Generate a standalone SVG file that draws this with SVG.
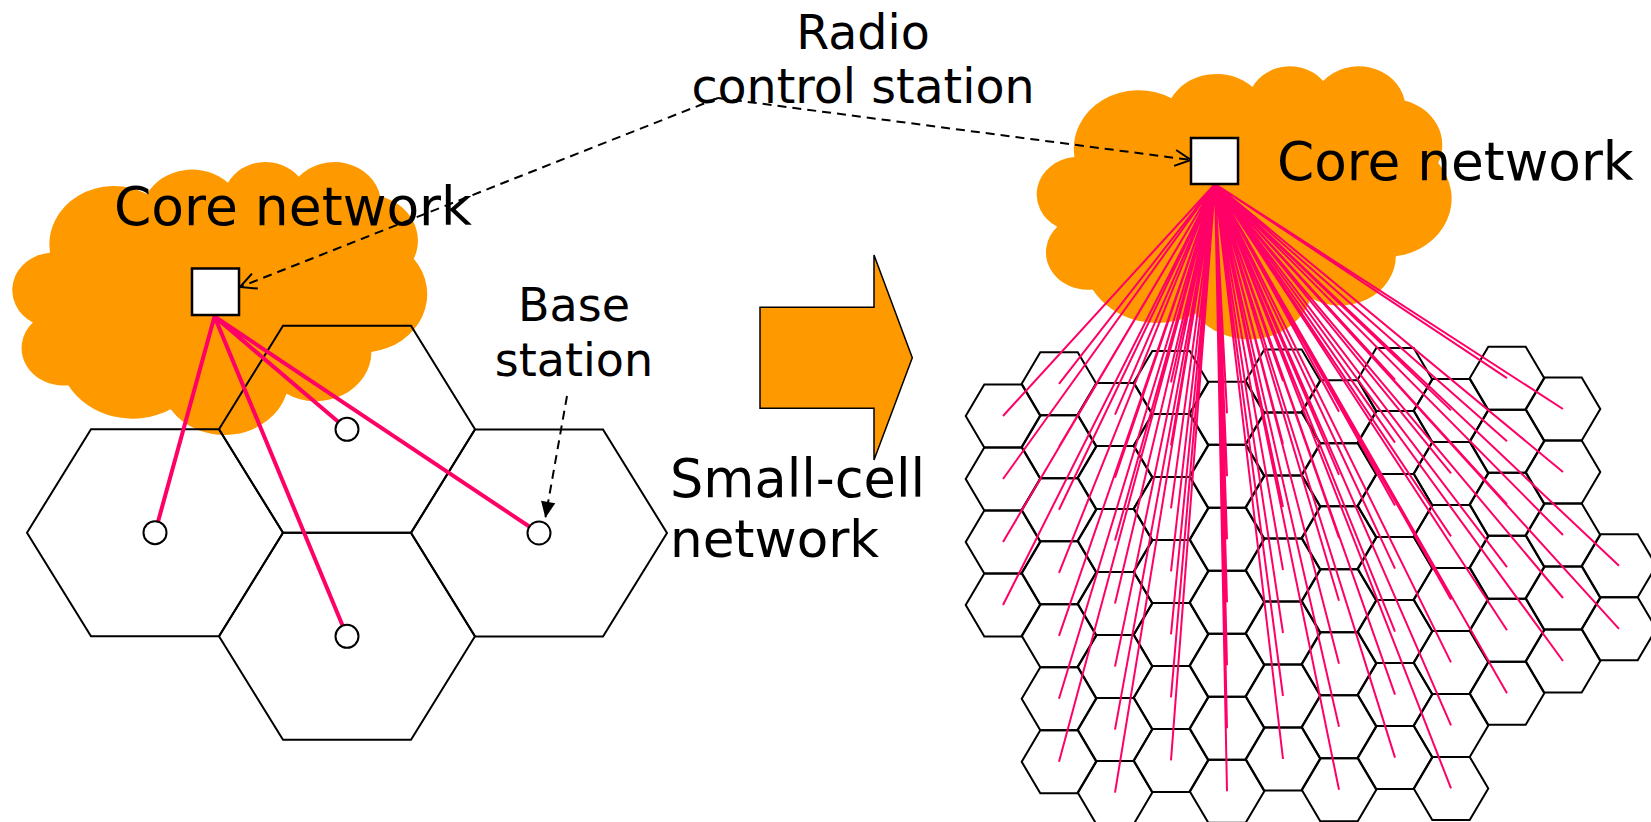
<svg xmlns="http://www.w3.org/2000/svg" width="1651" height="822" viewBox="0 0 1651 822">
  <style>
    .cloud { fill: #FF9900; stroke: none; }
    .big-hex { fill: none; stroke: #000; stroke-width: 2; }
    .cell { fill: none; stroke: #000; stroke-width: 2; }
    .bs { fill: #fff; stroke: #000; stroke-width: 2; }
    .rcs { fill: #fff; stroke: #000; stroke-width: 2.5; }
    .link-thick { stroke: #FF0066; stroke-width: 4; fill: none; stroke-linecap: round; }
    .link-thin { stroke: #FF0066; stroke-width: 2; fill: none; }
    .dash { stroke: #000; stroke-width: 2; fill: none; stroke-dasharray: 9 6; }
    .label { font-family: "DejaVu Sans", Verdana, "Liberation Sans", sans-serif; fill: #000; }
  </style>
  <defs>
    <!-- Office-style cloud outline in a 43200 x 43200 box -->
    <path id="cloudShape" d="M3900 14370 A6753 9190 0 0 1 14005.8 5202.7 A5333 7267 0 0 1 22457 3432.8 A4365 5945 0 0 1 29832.7 2479 A4857 6595 0 0 1 38317.6 5574.7 A5333 7273 0 0 1 41818.1 15458.5 A6775 9220 0 0 1 37405.6 30204.2 A5785 7867 0 0 1 28556.9 36814.2 A6752 9215 0 0 1 16481.5 39266.4 A7720 10543 0 0 1 5804.6 35472.3 A4360 5918 0 0 1 2114.5 25549 A4345 5945 0 0 1 3864.9 14505.9 Z"/>
    <polygon id="bigHex" points="-128,0 -64,-103.5 64,-103.5 128,0 64,103.5 -64,103.5"/>
    <polygon id="h" points="-37.3,0 -18.7,-31.5 18.7,-31.5 37.3,0 18.7,31.5 -18.7,31.5"/>
    <marker id="openHead" viewBox="0 0 20 20" refX="18" refY="10" markerWidth="20" markerHeight="20" markerUnits="userSpaceOnUse" orient="auto">
      <path d="M2,2 L18,10 L2,18" fill="none" stroke="#000" stroke-width="2" stroke-dasharray="none"/>
    </marker>
    <marker id="solidHead" viewBox="0 0 20 20" refX="18" refY="10" markerWidth="18" markerHeight="18" markerUnits="userSpaceOnUse" orient="auto">
      <path d="M1,2 L19,10 L1,18 Z" fill="#000" stroke="none"/>
    </marker>
  </defs>

  <!-- core network clouds -->
  <g id="cloud-left">
    <use href="#cloudShape" class="cloud" transform="translate(12.6,161.1) scale(0.009593,0.006317)"/>
  </g>
  <g id="cloud-right">
    <use href="#cloudShape" class="cloud" transform="translate(1037,65.4) scale(0.009593,0.006317)"/>
  </g>

  <!-- conventional macro cells -->
  <g id="macro-cells" class="big-hex">
    <use href="#bigHex" x="155" y="532.7"/>
    <use href="#bigHex" x="347" y="429.3"/>
    <use href="#bigHex" x="347" y="636.3"/>
    <use href="#bigHex" x="539" y="533"/>
  </g>

  <!-- small-cell grid -->
  <g id="small-cells" class="cell">
    <use href="#h" x="1003" y="416"/><use href="#h" x="1003" y="479"/><use href="#h" x="1003" y="542"/><use href="#h" x="1003" y="605"/>
    <use href="#h" x="1059" y="383.8"/><use href="#h" x="1059" y="446.8"/><use href="#h" x="1059" y="509.8"/><use href="#h" x="1059" y="572.8"/><use href="#h" x="1059" y="635.8"/><use href="#h" x="1059" y="698.8"/><use href="#h" x="1059" y="761.8"/>
    <use href="#h" x="1115" y="414.6"/><use href="#h" x="1115" y="477.6"/><use href="#h" x="1115" y="540.6"/><use href="#h" x="1115" y="603.6"/><use href="#h" x="1115" y="666.6"/><use href="#h" x="1115" y="729.6"/><use href="#h" x="1115" y="792.6"/>
    <use href="#h" x="1171" y="382.4"/><use href="#h" x="1171" y="445.4"/><use href="#h" x="1171" y="508.4"/><use href="#h" x="1171" y="571.4"/><use href="#h" x="1171" y="634.4"/><use href="#h" x="1171" y="697.4"/><use href="#h" x="1171" y="760.4"/>
    <use href="#h" x="1227" y="413.2"/><use href="#h" x="1227" y="476.2"/><use href="#h" x="1227" y="539.2"/><use href="#h" x="1227" y="602.2"/><use href="#h" x="1227" y="665.2"/><use href="#h" x="1227" y="728.2"/><use href="#h" x="1227" y="791.2"/>
    <use href="#h" x="1283" y="381"/><use href="#h" x="1283" y="444"/><use href="#h" x="1283" y="507"/><use href="#h" x="1283" y="570"/><use href="#h" x="1283" y="633"/><use href="#h" x="1283" y="696"/><use href="#h" x="1283" y="759"/>
    <use href="#h" x="1339" y="411.8"/><use href="#h" x="1339" y="474.8"/><use href="#h" x="1339" y="537.8"/><use href="#h" x="1339" y="600.8"/><use href="#h" x="1339" y="663.8"/><use href="#h" x="1339" y="726.8"/><use href="#h" x="1339" y="789.8"/>
    <use href="#h" x="1395" y="379.6"/><use href="#h" x="1395" y="442.6"/><use href="#h" x="1395" y="505.6"/><use href="#h" x="1395" y="568.6"/><use href="#h" x="1395" y="631.6"/><use href="#h" x="1395" y="694.6"/><use href="#h" x="1395" y="757.6"/>
    <use href="#h" x="1451" y="410.4"/><use href="#h" x="1451" y="473.4"/><use href="#h" x="1451" y="536.4"/><use href="#h" x="1451" y="599.4"/><use href="#h" x="1451" y="662.4"/><use href="#h" x="1451" y="725.4"/><use href="#h" x="1451" y="788.4"/>
    <use href="#h" x="1507" y="378.2"/><use href="#h" x="1507" y="441.2"/><use href="#h" x="1507" y="504.2"/><use href="#h" x="1507" y="567.2"/><use href="#h" x="1507" y="630.2"/><use href="#h" x="1507" y="693.2"/>
    <use href="#h" x="1563" y="409"/><use href="#h" x="1563" y="472"/><use href="#h" x="1563" y="535"/><use href="#h" x="1563" y="598"/><use href="#h" x="1563" y="661"/>
    <use href="#h" x="1619" y="565.8"/><use href="#h" x="1619" y="628.8"/>
  </g>

  <!-- links from the radio control stations -->
  <g id="connectors">
    <path class="link-thick" d="M214.5 316.5L155 532.7M214.5 316.5L347 429.3M214.5 316.5L347 636.3M214.5 316.5L539 533"/>
    <path class="link-thin" d="M1215 184L1003 416M1215 184L1003 479M1215 184L1003 542M1215 184L1003 605
      M1215 184L1059 383.8M1215 184L1059 446.8M1215 184L1059 509.8M1215 184L1059 572.8M1215 184L1059 635.8M1215 184L1059 698.8M1215 184L1059 761.8
      M1215 184L1115 414.6M1215 184L1115 477.6M1215 184L1115 540.6M1215 184L1115 603.6M1215 184L1115 666.6M1215 184L1115 729.6M1215 184L1115 792.6
      M1215 184L1171 382.4M1215 184L1171 445.4M1215 184L1171 508.4M1215 184L1171 571.4M1215 184L1171 634.4M1215 184L1171 697.4M1215 184L1171 760.4
      M1215 184L1227 413.2M1215 184L1227 476.2M1215 184L1227 539.2M1215 184L1227 602.2M1215 184L1227 665.2M1215 184L1227 728.2M1215 184L1227 791.2
      M1215 184L1283 381M1215 184L1283 444M1215 184L1283 507M1215 184L1283 570M1215 184L1283 633M1215 184L1283 696M1215 184L1283 759
      M1215 184L1339 411.8M1215 184L1339 474.8M1215 184L1339 537.8M1215 184L1339 600.8M1215 184L1339 663.8M1215 184L1339 726.8M1215 184L1339 789.8
      M1215 184L1395 379.6M1215 184L1395 442.6M1215 184L1395 505.6M1215 184L1395 568.6M1215 184L1395 631.6M1215 184L1395 694.6M1215 184L1395 757.6
      M1215 184L1451 410.4M1215 184L1451 473.4M1215 184L1451 536.4M1215 184L1451 599.4M1215 184L1451 662.4M1215 184L1451 725.4M1215 184L1451 788.4
      M1215 184L1507 378.2M1215 184L1507 441.2M1215 184L1507 504.2M1215 184L1507 567.2M1215 184L1507 630.2M1215 184L1507 693.2
      M1215 184L1563 409M1215 184L1563 472M1215 184L1563 535M1215 184L1563 598M1215 184L1563 661
      M1215 184L1619 565.8M1215 184L1619 628.8"/>
    <path class="dash" d="M718 98L240 287" marker-end="url(#openHead)"/>
    <path class="dash" d="M718 98L1191 160" marker-end="url(#openHead)"/>
    <path class="dash" d="M567 396L545.5 517" marker-end="url(#solidHead)"/>
  </g>

  <!-- base stations -->
  <g id="base-stations" class="bs">
    <circle cx="155" cy="532.7" r="11.5"/>
    <circle cx="347" cy="429.3" r="11.5"/>
    <circle cx="347" cy="636.3" r="11.5"/>
    <circle cx="539" cy="533" r="11.5"/>
  </g>

  <!-- radio control stations -->
  <g id="rcs-left"><rect class="rcs" x="192" y="268.5" width="47" height="46.5"/></g>
  <g id="rcs-right"><rect class="rcs" x="1191" y="138" width="47" height="46"/></g>

  <!-- transition arrow -->
  <g id="transition-arrow">
    <polygon points="760,307.3 874,307.3 874,255 912.3,357.7 874,460 874,408.3 760,408.3" fill="#FF9900" stroke="#000" stroke-width="1.5"/>
  </g>

  <!-- labels -->
  <g id="labels" class="label">
    <text x="114" y="225" font-size="53.5">Core network</text>
    <text x="1277" y="180" font-size="53.3">Core network</text>
    <text x="863" y="49" font-size="47.5" text-anchor="middle">Radio</text>
    <text x="863" y="103" font-size="47.5" text-anchor="middle">control station</text>
    <text x="574" y="321" font-size="46" text-anchor="middle">Base</text>
    <text x="574" y="376" font-size="46" text-anchor="middle">station</text>
    <text x="670" y="497" font-size="52.5">Small-cell</text>
    <text x="670" y="557" font-size="51.5">network</text>
  </g>
</svg>
